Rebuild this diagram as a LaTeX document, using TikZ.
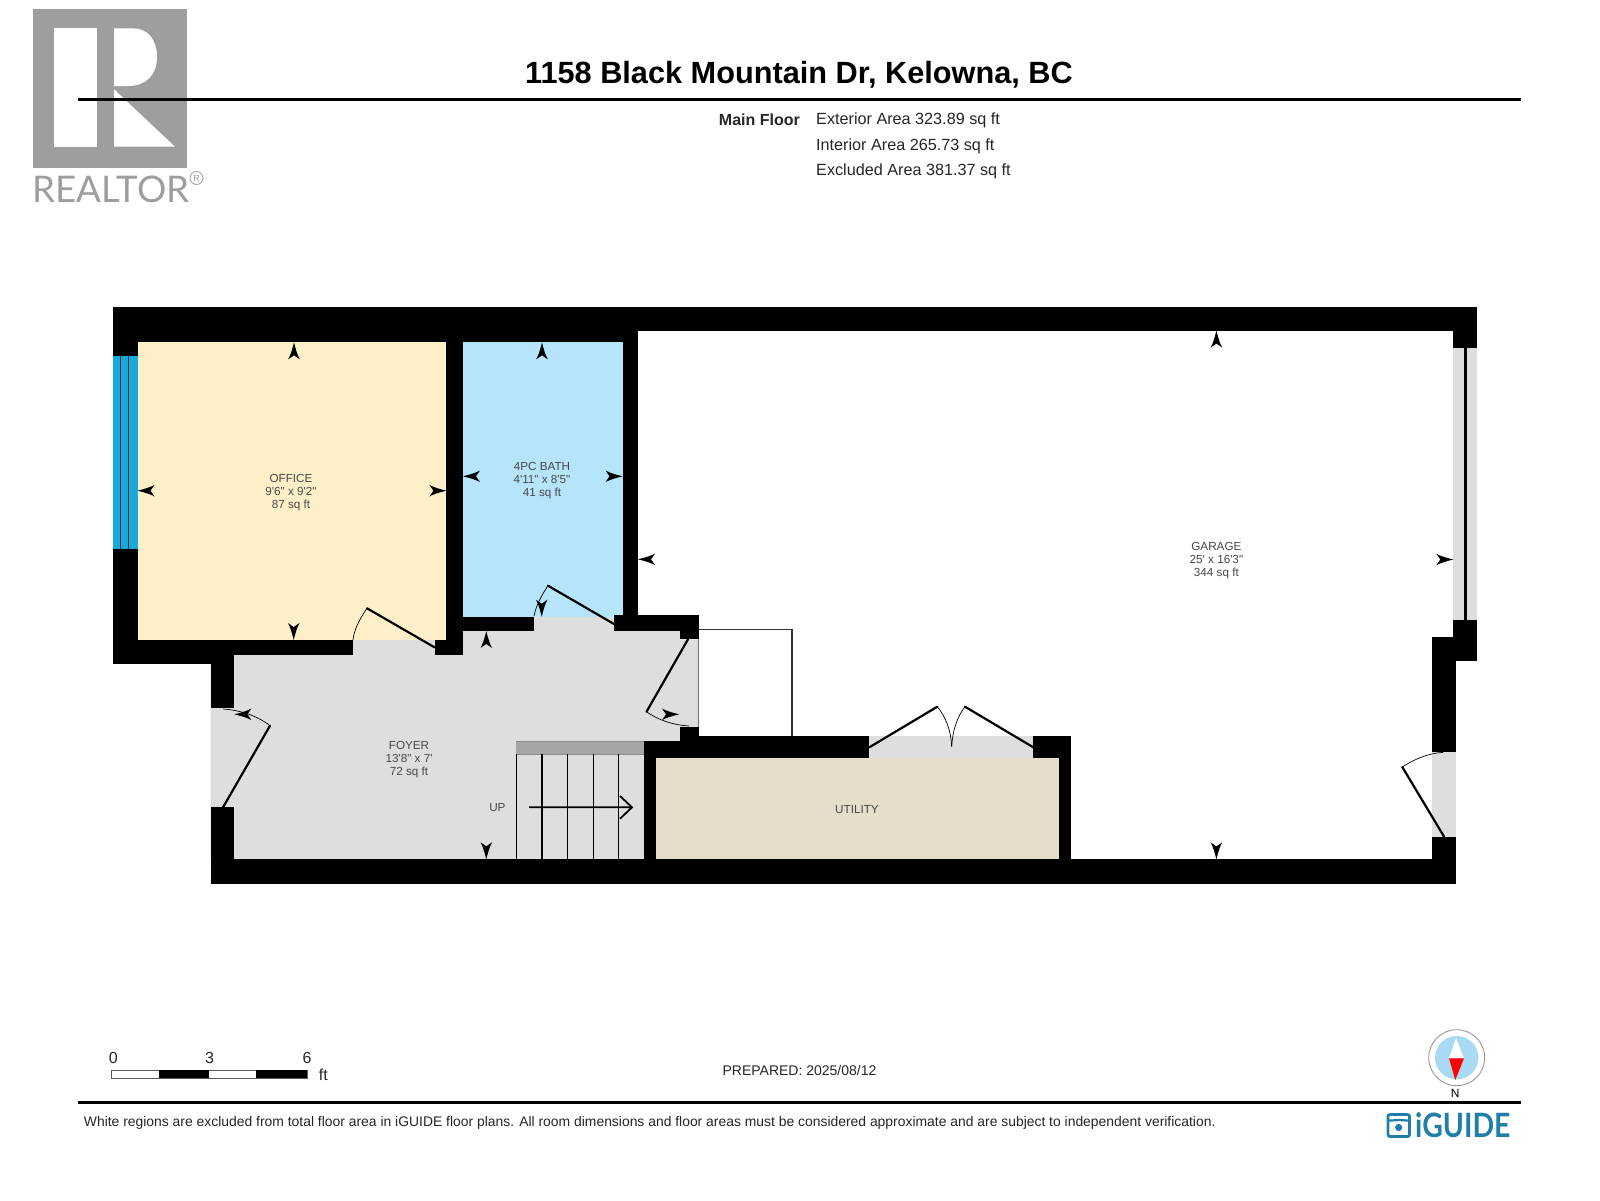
\documentclass[tikz,border=0pt]{standalone}
\usepackage{fontspec}
\usepackage{graphicx}
\setmainfont{Liberation Sans}
\newfontfamily\arial{Liberation Sans}
\newfontfamily\lato{Lato}
\definecolor{officec}{HTML}{FDF0C8}
\definecolor{bathc}{HTML}{B5E4FB}
\definecolor{grayc}{HTML}{DEDEDE}
\definecolor{utilc}{HTML}{E6DDCB}
\definecolor{winc}{HTML}{1BA9DC}
\definecolor{logoc}{HTML}{9E9E9E}
\definecolor{igc}{HTML}{1F7FA8}
\definecolor{labelc}{HTML}{484848}
\definecolor{compassc}{HTML}{A9DAF3}
\tikzset{
  wall/.style={fill=black},
  leaf/.style={draw=black,line width=2.2pt,line cap=round},
  swing/.style={draw=black,line width=0.7pt},
  stairline/.style={draw=black,line width=1.5pt},
  lbl/.style={font=\arial\fontsize{11.7}{12.9}\selectfont,text=labelc,align=center,inner sep=0pt},
  info/.style={font=\arial\fontsize{16.2}{18}\selectfont,text=black!85,inner sep=0pt},
  scalelbl/.style={font=\arial\fontsize{16}{18}\selectfont,text=black!85,inner sep=0pt},
}
\newcommand{\dimarrow}[3]{\fill[black,shift={(#1,#2)},rotate=#3] (0,0) .. controls (8,-2) and (13,-3.5) .. (17,-5.8) -- (13,0) -- (17,5.8) .. controls (13,3.5) and (8,2) .. (0,0) -- cycle;}
\begin{document}
\begin{tikzpicture}[x=1pt,y=-1pt]
\useasboundingbox (0,0) rectangle (1600,1200);
\fill[white] (0,0) rectangle (1600,1200);

% Realtor logo
\fill[logoc] (32.5,9) rectangle (187,167.7);
\fill[white] (54.3,28.3) rectangle (96.7,146.7);
\fill[white] (114,28.3) -- (133,28.3) .. controls (148,28.3) and (157,40) .. (157,57) .. controls (157,75) and (146,86) .. (128,86) -- (114,86) -- cycle;
\fill[white] (114,89.3) -- (175,146.7) -- (114,146.7) -- cycle;
\node[font=\lato\fontsize{36.7}{38}\selectfont,text=black!38,anchor=west,inner sep=0pt] (realtor) at (32,189.5) {REALTOR};
\node[draw=black!38,line width=0.8pt,circle,minimum size=13pt,inner sep=0pt,font=\arial\fontsize{9}{9}\selectfont,text=black!38] (regd) at (196.5,178) {R};

% Header
\node[font=\arial\bfseries\fontsize{30.7}{32}\selectfont,inner sep=0pt] (title) at (799,75) {1158 Black Mountain Dr, Kelowna, BC};
\draw[line width=3pt] (78,99.5) -- (1520.5,99.5);
\node[font=\arial\bfseries\fontsize{16}{18}\selectfont,text=black!85,anchor=east,inner sep=0pt] (mainfloor) at (800,119.5) {Main Floor};
\node[info,anchor=west] (ext) at (816,120) {Exterior Area 323.89 sq ft};
\node[info,anchor=west] (int) at (816,146) {Interior Area 265.73 sq ft};
\node[info,anchor=west] (exc) at (816,171) {Excluded Area 381.37 sq ft};

% Room fills
\fill[officec] (137.5,342) rectangle (446.4,640);
\fill[bathc] (463,342) rectangle (622.5,617);
\fill[grayc] (353,640) rectangle (434.5,656);
\fill[grayc] (534,616.7) rectangle (614,632);
\fill[grayc] (210.7,655) -- (463,655) -- (463,631) -- (680,631) -- (680,639.3) -- (698.7,639.3) -- (698.7,741) -- (644,741) -- (644,859.3) -- (210.7,859.3) -- cycle;
\fill[utilc] (656,758) rectangle (1059.3,859.3);
\fill[grayc] (869.3,736) rectangle (1033.3,758);
\fill[grayc] (1453.3,347.5) rectangle (1477.3,620.3);
\fill[grayc] (1431.7,751.6) rectangle (1456,836.5);
\fill[winc] (112.5,355.7) rectangle (137.5,549);
\draw[line width=1pt,black!80] (120.7,355.7) -- (120.7,549) (128.2,355.7) -- (128.2,549);
\draw[line width=2.6pt] (1465.3,347.5) -- (1465.3,620.3);
\draw[line width=0.8pt,black!55] (698.7,639) -- (698.7,728);

% Alcove outline
\draw[line width=1.2pt,black!80] (698.7,629.3) -- (792,629.3) -- (792,737);

% Stairs
\fill[black!35] (516.4,741) rectangle (644,754.3);
\draw[black!45,line width=0.6pt] (516.4,741) -- (644,741) (516.4,754.3) -- (644,754.3);
\foreach \sx in {516.4,542,567.4,593.5,618.4}{\draw[stairline] (\sx,754.3) -- (\sx,859.3);}
\draw[stairline,line width=1.8pt] (529,807.3) -- (632,807.3) (620,796) -- (632,807.3) -- (620,818.7);
\node[lbl] (up) at (497.4,807.3) {UP};

% Walls
\fill[wall] (112.5,306.7) rectangle (1477.3,330.7);
\fill[wall] (112.5,306.7) rectangle (638,342.3);
\fill[wall] (622.5,306.7) rectangle (638,631);
\fill[wall] (446.4,342) rectangle (463,655);
\fill[wall] (112.5,306.7) rectangle (137.5,355.7);
\fill[wall] (112.5,549) rectangle (137.5,664.3);
\fill[wall] (112.5,640) rectangle (234.4,664.3);
\fill[wall] (112.5,640) rectangle (353,655);
\fill[wall] (210.7,640) rectangle (234.4,708.3);
\fill[wall] (210.7,807.3) rectangle (234.4,883.5);
\fill[wall] (210.7,859.3) rectangle (1456,883.5);
\fill[wall] (434.5,640) rectangle (463,655);
\fill[wall] (463,616.7) rectangle (534,631);
\fill[wall] (614,615) rectangle (698.7,631);
\fill[wall] (680,631) rectangle (698.7,639.3);
\fill[wall] (680,727.3) rectangle (698.7,741);
\fill[wall] (644,741) rectangle (869.3,758);
\fill[wall] (698.7,736) rectangle (869.3,758);
\fill[wall] (644,741) rectangle (656,859.3);
\fill[wall] (1033.3,736) rectangle (1071.3,758);
\fill[wall] (1059.3,758) rectangle (1071.3,859.3);
\fill[wall] (1431.7,636.8) rectangle (1456,751.6);
\fill[wall] (1453.3,620.3) rectangle (1477.3,661);
\fill[wall] (1453.3,330) rectangle (1477.3,347.5);
\fill[wall] (1431.7,836.5) rectangle (1456,883.5);

% Doors
\draw[leaf] (434.5,647.3) -- (367,608.3);
\draw[swing] (367,608.3) .. controls (359,620) and (354,630) .. (353,640);
\draw[leaf] (614,624) -- (548,585.7);
\draw[swing] (548,585.7) .. controls (541,596) and (536,606) .. (534,616);
\draw[leaf] (688,639.3) -- (646.5,711.7);
\draw[swing] (646.5,711.7) .. controls (658,720) and (673,725) .. (689,726);
\draw[leaf] (223,807.3) -- (270,725.7);
\draw[swing] (270,725.7) .. controls (258,716) and (240,710) .. (223,709);
\draw[leaf] (869.3,747.3) -- (937.3,706.7);
\draw[swing] (937.3,706.7) .. controls (946,717) and (951,731) .. (951.7,746.7);
\draw[leaf] (1033.3,747.3) -- (965,706.7);
\draw[swing] (965,706.7) .. controls (957,717) and (952.5,731) .. (951.7,746.7);
\draw[leaf] (1444,836.5) -- (1402.3,767);
\draw[swing] (1402.3,767) .. controls (1413,760) and (1428,753) .. (1443,752.4);

% Dimension arrows
\dimarrow{294}{342.3}{-90}
\dimarrow{293.7}{640}{90}
\dimarrow{137.5}{490.7}{0}
\dimarrow{446.4}{490.7}{180}
\dimarrow{542}{342.3}{-90}
\dimarrow{541.7}{616.7}{90}
\dimarrow{463}{476.3}{0}
\dimarrow{622.5}{476.3}{180}
\dimarrow{638}{559.3}{0}
\dimarrow{1453.3}{559.5}{180}
\dimarrow{1216.4}{330.6}{-90}
\dimarrow{1216.4}{859.4}{90}
\dimarrow{486.3}{631}{-90}
\dimarrow{486.3}{859.3}{90}
\dimarrow{234.4}{714.3}{0}
\dimarrow{679}{714.3}{180}

% Room labels
\node[lbl] (office) at (291,492.3) {OFFICE\\9'6" x 9'2"\\87 sq ft};
\node[lbl] (bath) at (542,481) {4PC BATH\\4'11" x 8'5"\\41 sq ft};
\node[lbl] (foyer) at (409,760) {FOYER\\13'8" x 7'\\72 sq ft};
\node[lbl] (garage) at (1216.4,560.5) {GARAGE\\25' x 16'3"\\344 sq ft};
\node[lbl] (utility) at (857,809.3) {UTILITY};

% Scale bar
\draw[black!65,line width=0.8pt,fill=white] (111,1070) rectangle (307.3,1078.3);
\fill[black] (159,1070) rectangle (209,1078.3);
\fill[black] (256,1070) rectangle (307.3,1078.3);
\node[scalelbl] (s0) at (113.3,1058) {0};
\node[scalelbl] (s3) at (209.5,1058) {3};
\node[scalelbl] (s6) at (307,1058) {6};
\node[scalelbl] (sft) at (323.3,1075) {ft};

\node[font=\arial\fontsize{14}{17}\selectfont,text=black!85,inner sep=0pt] (prep) at (799.5,1070.5) {PREPARED: 2025/08/12};

% Compass
\fill[white] (1456.7,1057.7) circle (28);
\draw[black!40,line width=0.9pt] (1456.7,1057.7) circle (28);
\fill[compassc] (1456.7,1057.7) circle (21.7);
\fill[white] (1456,1038) -- (1464,1058.3) -- (1449,1058.3) -- cycle;
\fill[red] (1449,1058.3) -- (1464,1058.3) -- (1455.3,1080) -- cycle;
\node[font=\arial\fontsize{12}{14}\selectfont,inner sep=0pt] (north) at (1455.3,1093.3) {N};

% Footer
\draw[line width=3pt] (78,1102.7) -- (1521,1102.7);
\node[font=\arial\fontsize{13.9}{17}\selectfont,text=black!85,anchor=west,inner sep=0pt] (note) at (83.7,1122.5) {White regions are excluded from total floor area in iGUIDE floor plans. All room dimensions and floor areas must be considered approximate and are subject to independent verification.};

% iGUIDE logo
\draw[igc,line width=2.8pt,rounded corners=2pt] (1388,1114.5) rectangle (1409.5,1136.5);
\draw[igc,line width=2.2pt] (1388,1120.5) .. controls (1394,1120.5) and (1396,1120) .. (1398.7,1120) .. controls (1402,1120) and (1404,1120.5) .. (1409.5,1120.5);
\fill[igc] (1398.7,1127.5) circle (3.6);
\node[font=\lato\bfseries\fontsize{33.5}{36}\selectfont,text=igc,anchor=west,inner sep=0pt] (iguide) at (1415,1125.5) {\scalebox{0.85}[1]{iGUIDE}};
\end{tikzpicture}
\end{document}
